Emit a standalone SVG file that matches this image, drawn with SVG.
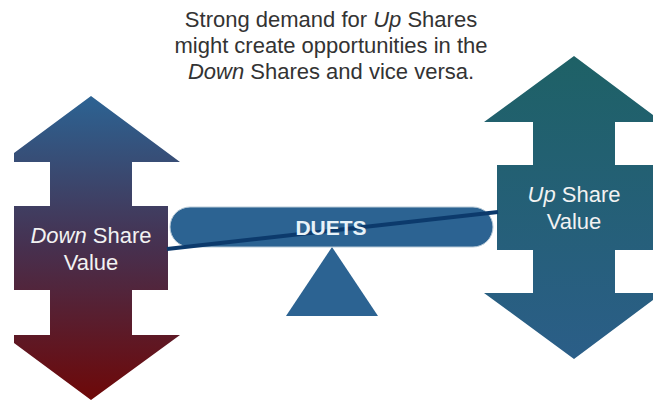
<svg xmlns="http://www.w3.org/2000/svg" width="653" height="402" viewBox="0 0 653 402">
  <style>
    .caption { font-family: "Liberation Sans", Arial, sans-serif; font-size: 22px; fill: #333333; }
    .label { font-family: "Liberation Sans", Arial, sans-serif; font-size: 22px; fill: #f2f2f2; }
    .beam-text { font-family: "Liberation Sans", Arial, sans-serif; font-size: 21px; font-weight: bold; fill: #e8f2f8; }
    .steel { fill: #2c6392; }
  </style>
  <defs>
    <linearGradient id="downGrad" x1="0" y1="96" x2="0" y2="400" gradientUnits="userSpaceOnUse">
      <stop offset="0" stop-color="#2c6393"/>
      <stop offset="0.5" stop-color="#47304f"/>
      <stop offset="1" stop-color="#6e0808"/>
    </linearGradient>
    <linearGradient id="upGrad" x1="0" y1="56" x2="0" y2="360" gradientUnits="userSpaceOnUse">
      <stop offset="0" stop-color="#1e6166"/>
      <stop offset="1" stop-color="#2b5e88"/>
    </linearGradient>
  </defs>

  <rect width="653" height="402" fill="#ffffff"/>

  <!-- caption -->
  <g id="caption">
    <text class="caption" text-anchor="middle" x="331" y="27">Strong demand for <tspan font-style="italic">Up</tspan> Shares</text>
    <text class="caption" text-anchor="middle" x="331" y="53">might create opportunities in the</text>
    <text class="caption" text-anchor="middle" x="331" y="79"><tspan font-style="italic">Down</tspan> Shares and vice versa.</text>
  </g>

  <!-- left double arrow -->
  <g id="down-share">
    <polygon fill="url(#downGrad)" points="91,96 180,162 132,162 132,206 168,206 168,290 132,290 132,335 180,335 91,400 14,343 14,335 50,335 50,290 14,290 14,206 50,206 50,162 14,162 14,153"/>
    <text class="label" text-anchor="middle" x="91" y="243"><tspan font-style="italic">Down</tspan> Share</text>
    <text class="label" text-anchor="middle" x="91" y="270">Value</text>
  </g>

  <!-- right double arrow -->
  <g id="up-share">
    <polygon fill="url(#upGrad)" points="574,56 653,115 653,122 615,122 615,165 653,165 653,250 615,250 615,293 653,293 653,300 574,359 484,293 533,293 533,250 497,250 497,165 533,165 533,122 484,122"/>
    <text class="label" text-anchor="middle" x="574" y="202"><tspan font-style="italic">Up</tspan> Share</text>
    <text class="label" text-anchor="middle" x="574" y="229">Value</text>
  </g>

  <!-- seesaw -->
  <g id="fulcrum">
    <polygon class="steel" points="332,247 378,316 286,316"/>
  </g>
  <g id="beam">
    <rect class="steel" x="170" y="207" width="323" height="40" rx="20" ry="20" stroke="#b9cbd8" stroke-width="1"/>
  </g>

  <g id="connectors">
    <line x1="167" y1="249" x2="498" y2="212" stroke="#0c3a6c" stroke-width="4"/>
  </g>

  <g id="beam-label">
    <text class="beam-text" text-anchor="middle" x="331" y="235">DUETS</text>
  </g>
</svg>
